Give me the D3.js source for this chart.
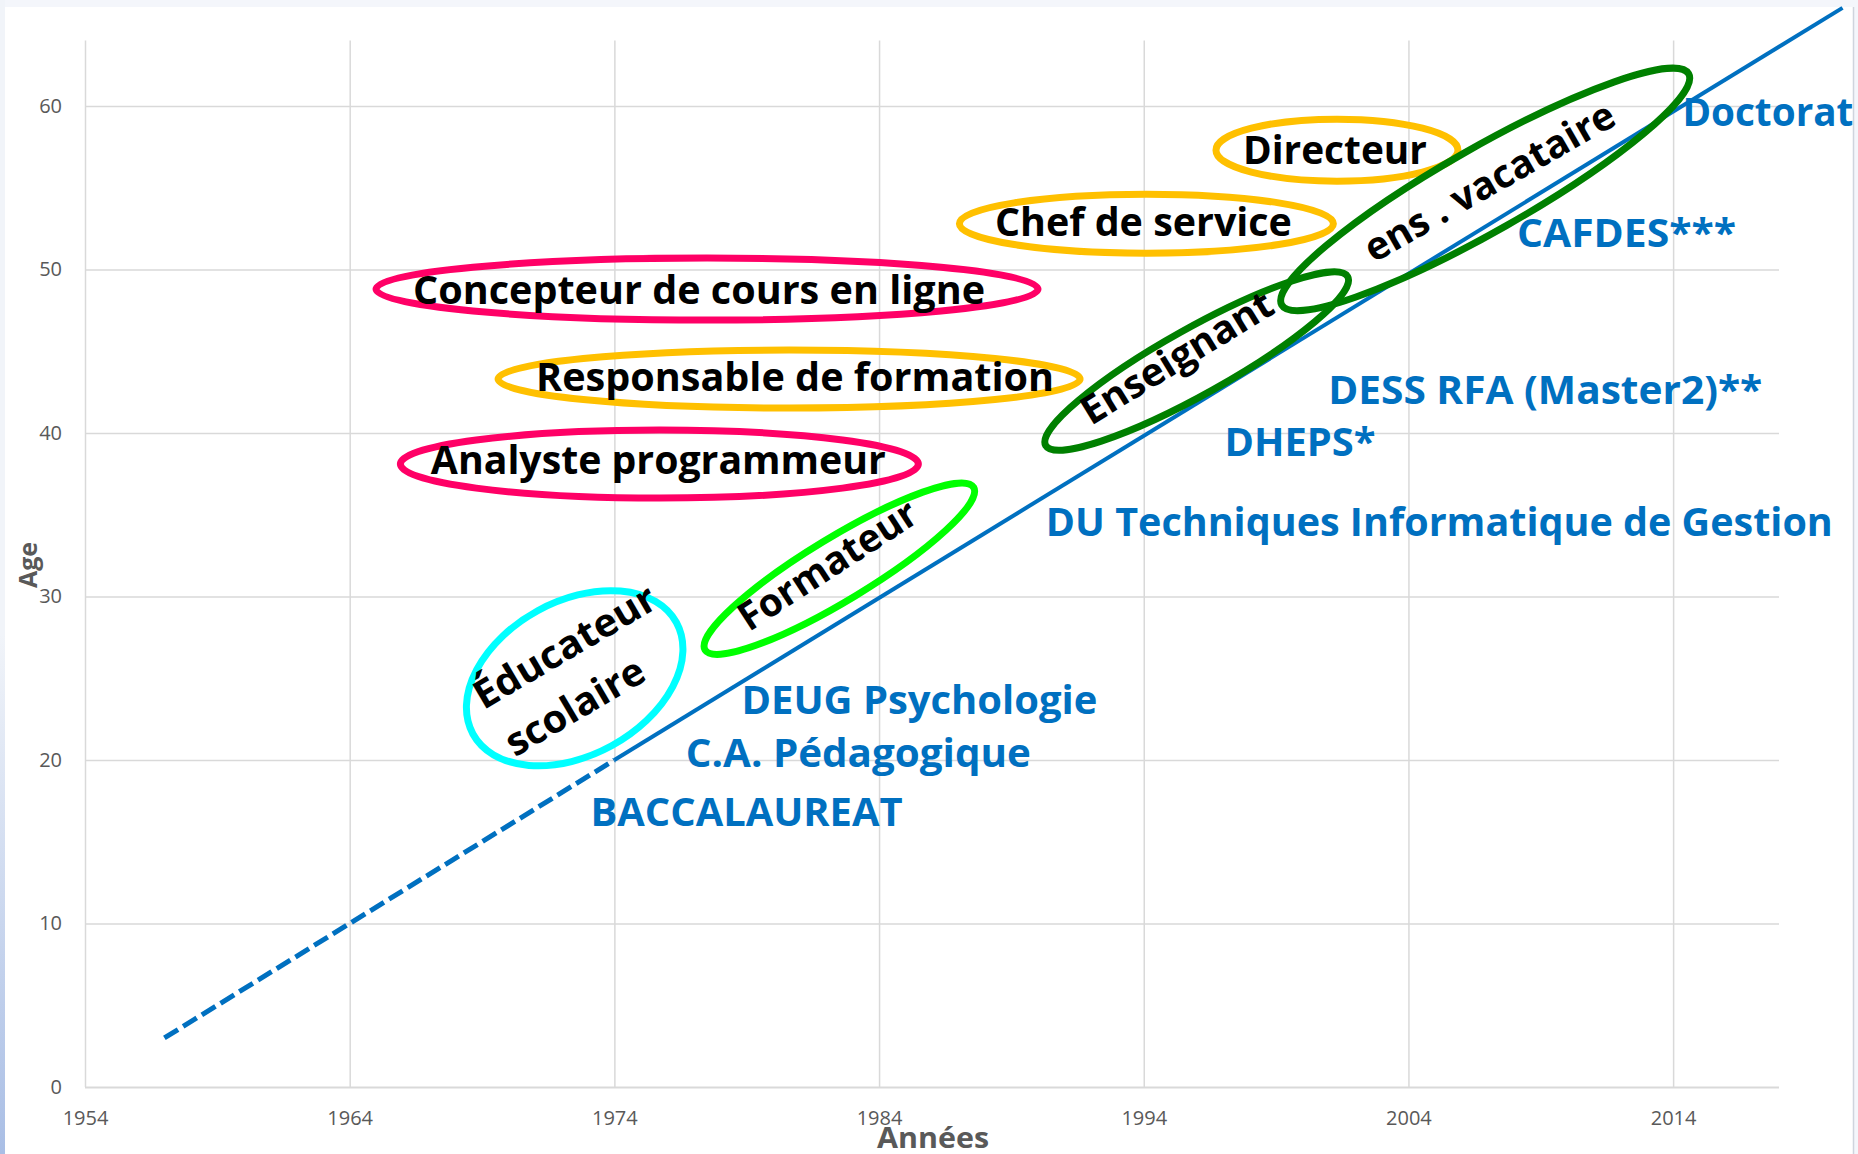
<!DOCTYPE html>
<html>
<head>
<meta charset="utf-8">
<script src="https://cdn.jsdelivr.net/npm/d3@7"></script>
<style>
  body { margin: 0; background: #fff; }
  svg { display: block; }
  text { font-family: "Open Sans", sans-serif; }
</style>
</head>
<body>
<div id="chart"></div>
<script>
// life line: age against year (dashed before 1974)
const dashYears = [1957, 1974]
const dashAges = [3, 20]
const solidYears = [1974, 2020.4]
const solidAges = [20, 66]

const xTicks = [1954, 1964, 1974, 1984, 1994, 2004, 2014]
const yTicks = [0, 10, 20, 30, 40, 50, 60]

// diplomas, anchored at start of text / baseline
const diplomas = ["BACCALAUREAT", "C.A. Pédagogique", "DEUG Psychologie",
  "DU Techniques Informatique de Gestion", "DHEPS*", "DESS RFA (Master2)**", "CAFDES***", "Doctorat"]
const diplomaYears = [1973.1, 1976.7, 1978.8, 1990.3, 1997.05, 2000.97, 2008.1, 2014.35]
const diplomaAges = [15.95, 19.55, 22.8, 33.7, 38.6, 41.8, 51.35, 58.75]

// jobs, each one circled
const jobs = ["Concepteur de cours en ligne", "Responsable de formation", "Analyste programmeur",
  "Chef de service", "Directeur", "Enseignant", "ens . vacataire", "Formateur", "Éducateur\nscolaire"]
const jobYears = [1977.5, 1980.6, 1975.7, 1994.1, 2001.3, 1996.0, 2006.9, 1982.5, 1972.5]
const jobAges = [48.8, 43.3, 38.1, 52.8, 57.3, 44.4, 54.9, 31.7, 25.0]

// ---- layout / style (kept apart from the values) ----
const W = 1858, H = 1154
const blue = "#0070c0", grid = "#d9d9d9", grey = "#595959"
const diplomaWidths = [312, 345, 356, 787, 151, 434, 219, 171]
const ringColor = ["#ff0066", "#ffc000", "#ff0066", "#ffc000", "#ffc000", "#008000", "#008000", "#00ff00", "#00ffff"]
const ringRx = [331, 291, 259, 187, 121, 173, 234, 157, 116]
const ringRy = [31, 29, 34, 29.5, 31, 33, 42, 31.5, 77]
const ringAngle = [0, 0, 0, 0, 0, -29.2, -29.6, -31.2, -28.7]
const textAngle = [0, 0, 0, 0, 0, -31.5, -29.7, -33, -30.5]
const textShift = [[[-8, 1]], [[6, -2]], [[-1, -4]], [[-3, -1.5]], [[-2, 0]], [[-20, -4]], [[4, -8]], [[-12, -4]], [[-10, -32], [0, 28]]]
const textWidths = [[572], [518], [455], [297], [184], [218], [282], [205], [205, 155]]
const bigFont = 39

const svg = d3.select("#chart").append("svg")
  .attr("width", W)
  .attr("height", H)

// frame of the slide
let defs = svg.append("defs")
let grad = defs.append("linearGradient").attr("id", "edge").attr("x1", 0).attr("y1", 0).attr("x2", 0).attr("y2", 1)
grad.append("stop").attr("offset", "0.55").attr("stop-color", "#f1f4f9")
grad.append("stop").attr("offset", "1").attr("stop-color", "#a9bee5")
svg.append("rect").attr("width", W).attr("height", H).attr("fill", "#f4f6fb")
svg.append("rect").attr("x", 0).attr("y", 0).attr("width", 5).attr("height", H).attr("fill", "url(#edge)")
svg.append("rect").attr("x", 5).attr("y", 7).attr("width", 1848).attr("height", H - 7).attr("fill", "#fff")
svg.append("line").attr("x1", 1853.5).attr("x2", 1853.5).attr("y1", 7).attr("y2", H)
  .style("stroke", "#cfd4dd").style("stroke-width", 1.5)

const x = d3.scaleLinear().domain([1954, 2018]).range([85, 1779])
const y = d3.scaleLinear().domain([0, 64]).range([1087, 40.6])

// grid
svg.append("g")
  .attr("transform", "translate(0," + y(0) + ")")
  .call(d3.axisBottom(x).tickValues(xTicks).tickSize(-(y(0) - y(64))).tickFormat(""))
  .call(g => g.select(".domain").remove())
  .call(g => g.selectAll("line").style("stroke", grid).style("stroke-width", 1.5))
svg.append("g")
  .attr("transform", "translate(" + x(1954) + ",0)")
  .call(d3.axisLeft(y).tickValues(yTicks).tickSize(-(x(2018) - x(1954))).tickFormat(""))
  .call(g => g.select(".domain").remove())
  .call(g => g.selectAll("line").style("stroke", grid).style("stroke-width", d => d === 0 ? 2.2 : 1.5))

// tick labels
svg.append("g")
  .attr("transform", "translate(0," + y(0) + ")")
  .call(d3.axisBottom(x).tickValues(xTicks).tickFormat(d3.format("d")).tickSize(0).tickPadding(24))
  .call(g => g.select(".domain").remove())
  .call(g => g.selectAll("text").style("font-family", "'Open Sans', sans-serif").style("font-size", "20px").attr("fill", grey))
svg.append("g")
  .attr("transform", "translate(" + x(1954) + ",0)")
  .call(d3.axisLeft(y).tickValues(yTicks).tickSize(0).tickPadding(23))
  .call(g => g.select(".domain").remove())
  .call(g => g.selectAll("text").style("font-family", "'Open Sans', sans-serif").style("font-size", "20px").attr("fill", grey))

// axis titles
svg.append("text")
  .attr("transform", "translate(36.5,565) rotate(-90)")
  .attr("text-anchor", "middle")
  .style("font-size", "25px").style("font-weight", 700)
  .attr("fill", grey)
  .text("Age")
svg.append("text")
  .attr("x", 877).attr("y", 1148)
  .attr("textLength", 112).attr("lengthAdjust", "spacingAndGlyphs")
  .style("font-size", "29px").style("font-weight", 700)
  .attr("fill", grey)
  .text("Années")

// life line
let line = d3.line().x(d => x(d[0])).y(d => y(d[1]))
svg.append("path")
  .datum(d3.zip(dashYears, dashAges))
  .attr("d", line)
  .attr("fill", "none")
  .style("stroke", blue).style("stroke-width", 5).style("stroke-dasharray", "16 6")
svg.append("path")
  .datum(d3.zip(solidYears, solidAges))
  .attr("d", line)
  .attr("fill", "none")
  .style("stroke", blue).style("stroke-width", 4)

// diplomas
svg.append("g").selectAll("text")
  .data(diplomas)
  .join("text")
  .attr("x", (d, i) => x(diplomaYears[i]))
  .attr("y", (d, i) => y(diplomaAges[i]))
  .attr("textLength", (d, i) => diplomaWidths[i])
  .attr("lengthAdjust", "spacingAndGlyphs")
  .style("font-size", bigFont + "px").style("font-weight", 700)
  .attr("fill", blue)
  .text(d => d)

// jobs: rings then words
let rings = svg.append("g").selectAll("ellipse")
  .data(jobs)
  .join("ellipse")
  .attr("transform", (d, i) => "translate(" + x(jobYears[i]) + "," + y(jobAges[i]) + ") rotate(" + ringAngle[i] + ")")
  .attr("rx", (d, i) => ringRx[i])
  .attr("ry", (d, i) => ringRy[i])
  .attr("fill", "none")
  .style("stroke", (d, i) => ringColor[i])
  .style("stroke-width", 7)

jobs.forEach(function (job, i) {
  let lines = job.split("\n")
  lines.forEach(function (word, k) {
    let cx = x(jobYears[i]) + textShift[i][k][0]
    let cy = y(jobAges[i]) + textShift[i][k][1]
    let w = textWidths[i][k]
    svg.append("text")
      .attr("transform", "translate(" + cx + "," + cy + ") rotate(" + textAngle[i] + ")")
      .attr("x", -w / 2)
      .attr("y", bigFont * 0.357)
      .attr("textLength", w)
      .attr("lengthAdjust", "spacingAndGlyphs")
      .style("font-size", bigFont + "px").style("font-weight", 700)
      .attr("fill", "#000")
      .text(word)
  })
})
</script>
</body>
</html>
